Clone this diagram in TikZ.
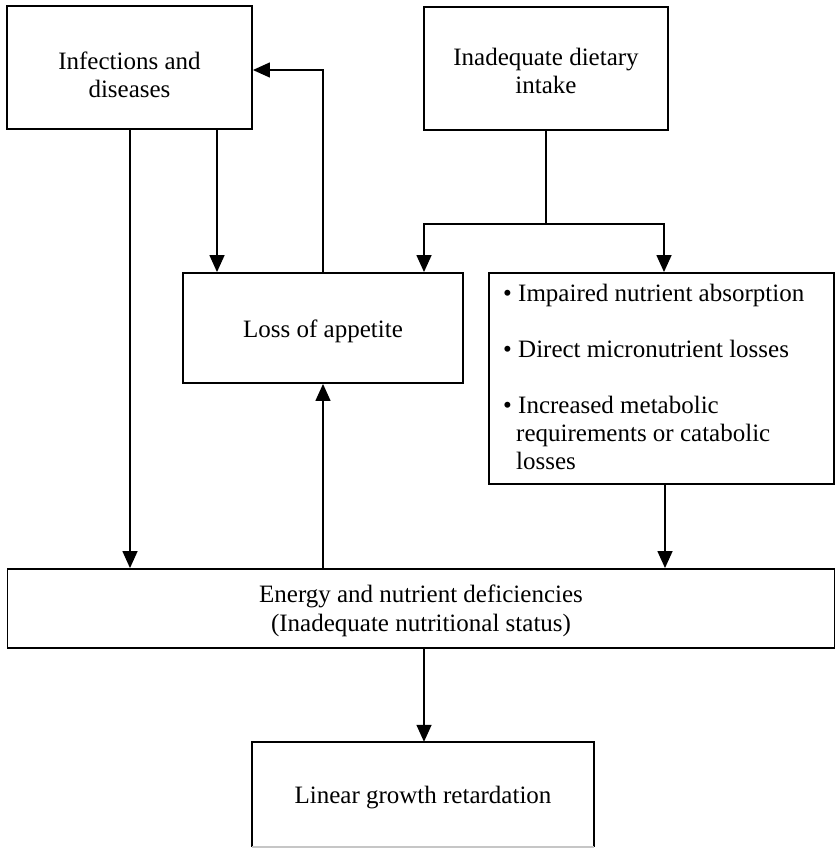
\documentclass[tikz,border=0pt]{standalone}
\usepackage{fontspec}
\setmainfont{Liberation Serif}
\usetikzlibrary{arrows.meta}
\begin{document}
\begin{tikzpicture}[x=1pt,y=-1pt,
  box/.style={draw, line width=1.9pt, inner sep=0pt, align=center,
    font=\fontsize{25}{28.5}\selectfont},
  lbl/.style={inner sep=0pt, align=center, font=\fontsize{25}{28.5}\selectfont},
  txt/.style={inner sep=0pt, anchor=base west, font=\fontsize{25}{28}\selectfont},
  conn/.style={line width=1.5pt, -{Triangle[width=15pt,length=17pt]}},
  plain/.style={line width=1.5pt}]
\useasboundingbox (0,0) rectangle (836,849);

% boxes
\node[box, minimum width=245pt, minimum height=123pt] (inf) at (129.5,67.5) {};
\node[lbl] (inftxt) at (129.5,75) {Infections and\\diseases};
\node[box, minimum width=244pt, minimum height=123pt] (inad) at (546,68.5) {};
\node[lbl] (inadtxt) at (546,71) {Inadequate dietary\\intake};
\node[box, minimum width=280pt, minimum height=110pt] (loss) at (323,328) {};
\node[lbl] (losstxt) at (323,331) {Loss of appetite};
\node[box, minimum width=345pt, minimum height=211pt] (bul) at (661.5,378.5) {};
\node[box, minimum width=827pt, minimum height=79pt] (en) at (421,608.5) {};
\node[lbl] (entxt) at (421,611) {Energy and nutrient deficiencies\\(Inadequate nutritional status)};
\node[inner sep=0pt, minimum width=342pt, minimum height=105pt] (lin) at (423,794.5) {};
\node[lbl] (lintxt) at (423,798) {Linear growth retardation};
\draw[line width=1.9pt] (lin.south west) -- (lin.north west) -- (lin.north east) -- (lin.south east);
\draw[line width=1.5pt, gray!45] (lin.south west) -- (lin.south east);

% bullet text
\node[txt] (b1) at (503,301) {\textbullet\ Impaired nutrient absorption};
\node[txt] (b2) at (503,357) {\textbullet\ Direct micronutrient losses};
\node[txt] (b3) at (503,413) {\textbullet\ Increased metabolic};
\node[txt] (b4) at (516,441) {requirements or catabolic};
\node[txt] (b5) at (516,469) {losses};

% helper coordinates
\coordinate (cA) at (130,0);
\coordinate (cB) at (217,0);
\coordinate (cC) at (323,0);
\coordinate (cD) at (424,224);
\coordinate (cE) at (664,224);
\coordinate (cF) at (665,0);
\coordinate (cG) at (424,0);
\coordinate (cH) at (0,70);

% connectors
\draw[conn] (inf.south -| cA) -- (en.north -| cA);
\draw[conn] (inf.south -| cB) -- (loss.north -| cB);
\draw[conn] (loss.north -| cC) |- (inf.east |- cH);
\draw[conn] (en.north -| cC) -- (loss.south -| cC);
\draw[plain] (inad.south) -- (inad.south |- cD);
\draw[conn] (inad.south |- cD) -| (loss.north -| cD);
\draw[conn] (inad.south |- cE) -| (bul.north -| cE);
\draw[conn] (bul.south -| cF) -- (en.north -| cF);
\draw[conn] (en.south -| cG) -- (lin.north -| cG);
\end{tikzpicture}
\end{document}
